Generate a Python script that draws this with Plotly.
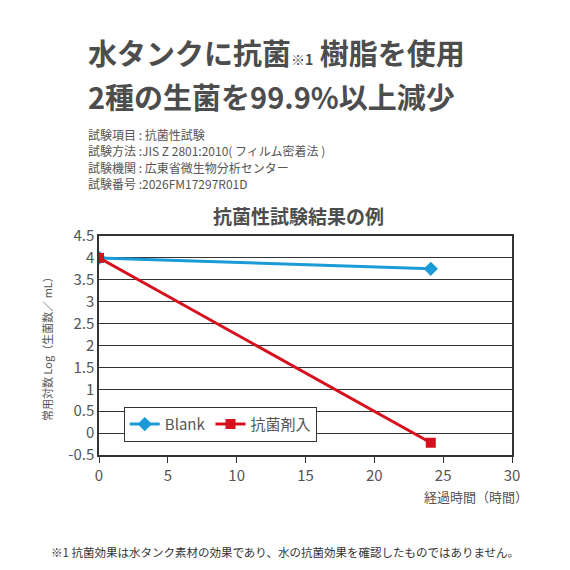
import plotly.graph_objects as go

hours = [0, 24.1]
blank = [4.0, 3.75]
treated = [4.0, -0.22]
y_ticks = [-0.5, 0, 0.5, 1, 1.5, 2, 2.5, 3, 3.5, 4, 4.5]
x_ticks = [0, 5, 10, 15, 20, 25, 30]
info_lines = ["試験項目 : 抗菌性試験",
              "試験方法 :JIS Z 2801:2010( フィルム密着法 )",
              "試験機関 : 広東省微生物分析センター",
              "試験番号 :2026FM17297R01D"]

font = "Noto Sans CJK JP"
gray = "#555555"

# page renders with an ~8px offset, so compensate
OX, OY = 8, 7
L, R, T, B = 99 - OX, 58 + OX, 235 - OY, 116 + OY

fig = go.Figure()
fig.add_trace(go.Scatter(x=hours, y=blank, name="Blank", mode="lines+markers",
                         line=dict(color="#1a9ad6", width=3),
                         marker=dict(symbol="diamond", size=11, color="#1a9ad6")))
fig.add_trace(go.Scatter(x=hours, y=treated, name="抗菌剤入", mode="lines+markers",
                         line=dict(color="#d7101e", width=3),
                         marker=dict(symbol="square", size=10, color="#d7101e")))

fig.update_layout(
    width=570, height=570, plot_bgcolor="white", paper_bgcolor="white",
    font=dict(family=font, color=gray),
    margin=dict(l=L, r=R, t=T, b=B),
    showlegend=True,
    legend=dict(x=0.06, y=0.14, xanchor="left", yanchor="middle", orientation="h",
                bordercolor="#333", borderwidth=1, bgcolor="white",
                font=dict(size=15, color=gray)),
)


def addp(text, xp, yp, size, color=gray, xanchor="left", yanchor="top", **kw):
    # xp, yp are target pixel positions in the screenshot
    x = (xp - OX - L) / (570 - L - R)
    y = (570 - B - (yp - OY)) / (570 - T - B)
    fig.add_annotation(text=text, x=x, y=y, xref="paper", yref="paper",
                       xanchor=xanchor, yanchor=yanchor, showarrow=False,
                       font=dict(size=size, color=color, family=font), **kw)


addp("<b>水タンクに抗菌<span style='font-size:14px'>※1</span> 樹脂を使用</b>", 86, 28, 29, "#4d4d4d")
addp("<b>2種の生菌を99.9%以上減少</b>", 86, 72, 29, "#4d4d4d")
for i, line in enumerate(info_lines):
    addp(line, 86, 123 + 16.3 * i, 12, gray)
addp("<b>抗菌性試験結果の例</b>", 298, 199, 19, "#4d4d4d", xanchor="center")
addp("経過時間（時間）", 476, 484, 13, gray, xanchor="center")
addp("常用対数 Log（生菌数／ mL）", 47, 345, 11, gray, xanchor="center", yanchor="middle", textangle=-90)
addp("※1 抗菌効果は水タンク素材の効果であり、水の抗菌効果を確認したものではありません。", 285, 541, 11.5, "#333", xanchor="center")

fig.update_xaxes(range=[0, 30], tickvals=x_ticks, ticks="outside", ticklen=6, tickcolor="#333",
                 showline=True, linecolor="#333", linewidth=1.5, mirror=True, showgrid=False,
                 zeroline=False, tickfont=dict(size=15, color=gray))
fig.update_yaxes(range=[-0.5, 4.5], tickvals=y_ticks, ticktext=[str(v) for v in y_ticks],
                 showline=True, linecolor="#333", linewidth=1.5, mirror=True,
                 gridcolor="#333", gridwidth=1, zeroline=False, tickfont=dict(size=15, color=gray))

fig.write_html("out.html")
